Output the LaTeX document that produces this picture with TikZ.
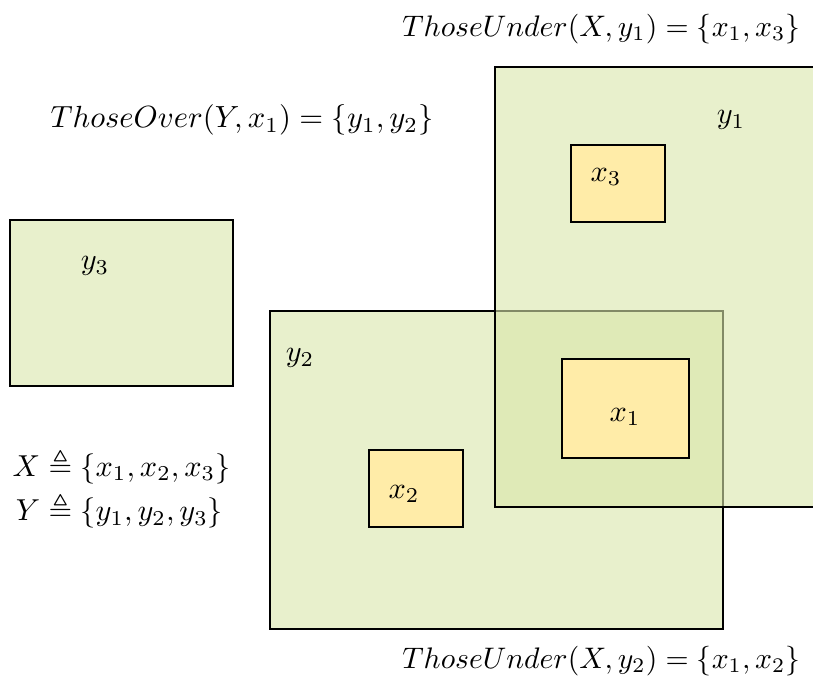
\documentclass[tikz,border=0pt]{standalone}
\usepackage{amsmath,amssymb}
\definecolor{lightgr}{RGB}{232,240,204}
\definecolor{ygr}{RGB}{217,230,170}
\definecolor{xyel}{RGB}{255,236,168}
\begin{document}
\begin{tikzpicture}[x=0.33pt,y=-0.33pt,
  setbox/.style={draw=black,line width=0.65pt,inner sep=0pt,outer sep=0pt},
  ybox/.style={setbox,fill=lightgr},
  ytrans/.style={setbox,fill=ygr,fill opacity=0.6},
  xbox/.style={setbox,fill=xyel},
  lbl/.style={inner sep=0pt}]
\useasboundingbox (0,0) rectangle (813,677);
% sets
\node[ybox,minimum width={223*0.33pt},minimum height={166*0.33pt}] (y3) at (121.5,303) {};
\node[ybox,minimum width={453*0.33pt},minimum height={318*0.33pt}] (y2) at (496.5,470) {};
\node[ytrans,minimum width={345*0.33pt},minimum height={440*0.33pt}] (y1) at (667.5,287) {};
\node[xbox,minimum width={127*0.33pt},minimum height={99*0.33pt}] (x1) at (625.5,408.5) {};
\node[xbox,minimum width={94*0.33pt},minimum height={77*0.33pt}] (x2) at (416,488.5) {};
\node[xbox,minimum width={94*0.33pt},minimum height={77*0.33pt}] (x3) at (618,183.5) {};
% labels
\node[lbl] (ly1) at (731,120) {$y_1$};
\node[lbl] (ly2) at (300,358) {$y_2$};
\node[lbl] (ly3) at (95,266) {$y_3$};
\node[lbl] (lx1) at (625,417) {$x_1$};
\node[lbl] (lx2) at (404,494) {$x_2$};
\node[lbl] (lx3) at (606,177) {$x_3$};
% texts
\node[lbl,anchor=east,scale=0.98] (tu1) at (801,29) {$ThoseUnder(X,y_1)=\{x_1,x_3\}$};
\node[lbl,anchor=west,scale=1.01] (to1) at (50,120) {$ThoseOver(Y,x_1)=\{y_1,y_2\}$};
\node[lbl,anchor=east,scale=0.98] (tu2) at (801,661) {$ThoseUnder(X,y_2)=\{x_1,x_2\}$};
\node[lbl,anchor=west] (defs) at (12,490) {$\begin{aligned} X &\triangleq \{x_1,x_2,x_3\}\\[-2pt] Y &\triangleq \{y_1,y_2,y_3\}\end{aligned}$};
\end{tikzpicture}
\end{document}
